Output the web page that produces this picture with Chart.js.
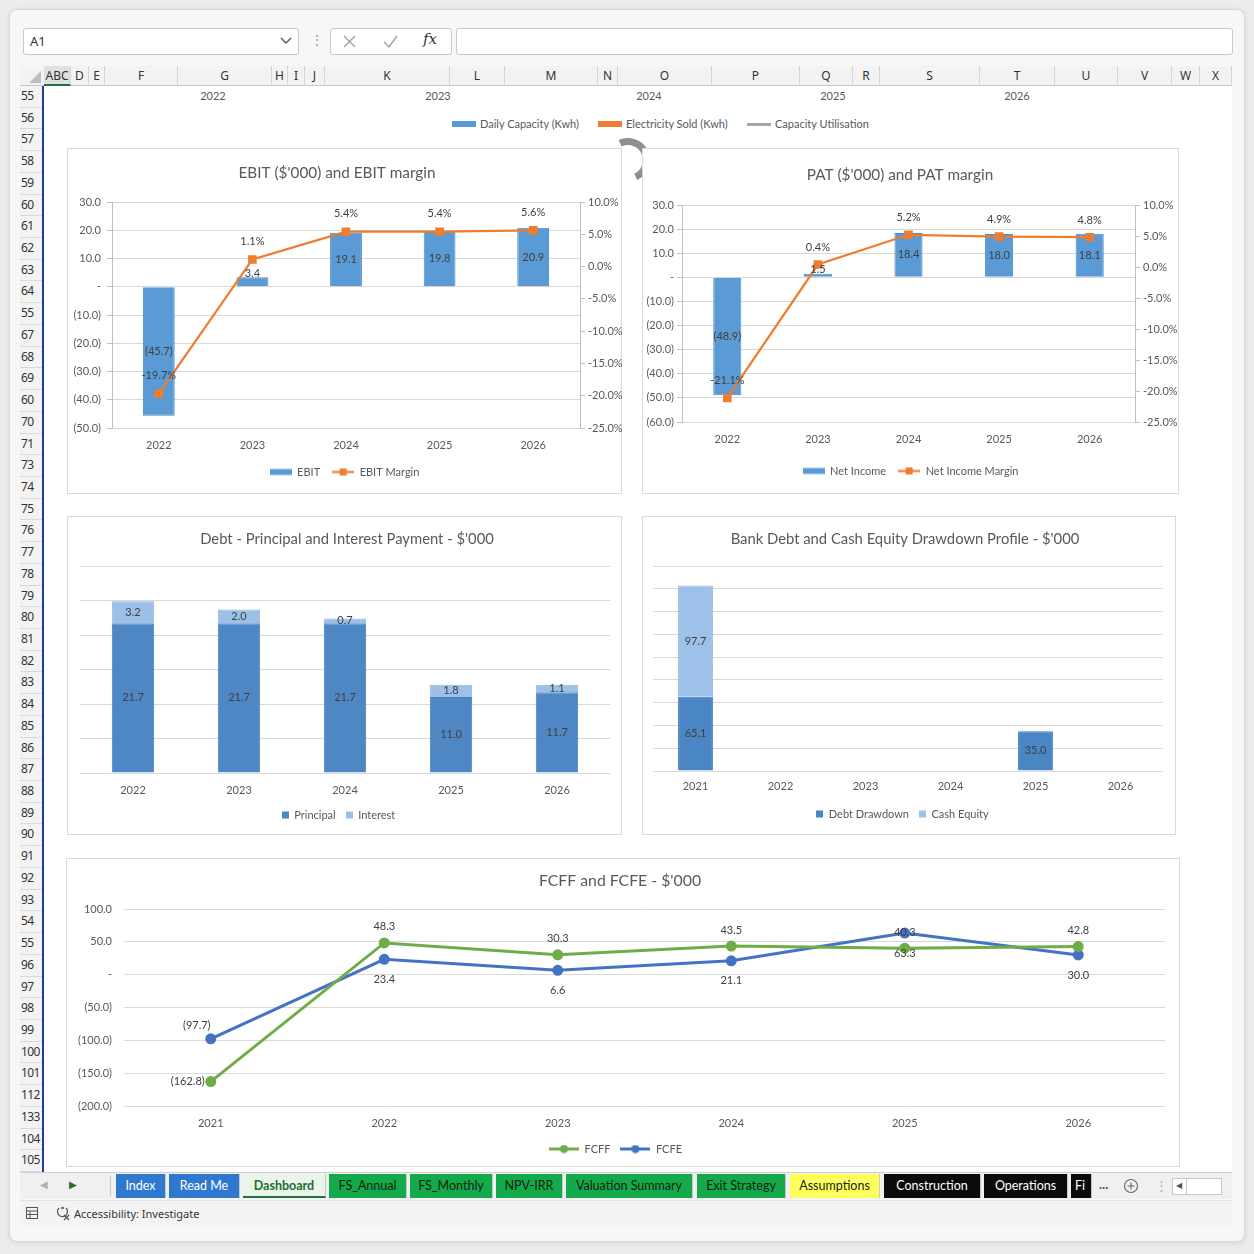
<!DOCTYPE html>
<html>
<head>
<meta charset="utf-8">
<title>Dashboard</title>
<script src="https://cdn.jsdelivr.net/npm/chart.js@4.4.1/dist/chart.umd.min.js"></script>
<style>
  html, body { margin:0; padding:0; }
  body { width:1254px; height:1254px; background:#ececec; position:relative; overflow:hidden;
         font-family: Lato, "Open Sans", "Liberation Sans", sans-serif; color:#333; }
  .a { position:absolute; box-sizing:border-box; }
  .box { background:#fff; border:1px solid #c9c9c9; border-radius:3px; }
  .ui { font-family: "Noto Sans", "Open Sans", sans-serif; }
  .colh { top:66px; height:20px; border-right:1px solid #d6d6d6; font-size:12px; line-height:19px; text-align:center; color:#333; }
  .rowh { left:20px; width:23px; border-bottom:1px solid #dadada; font-size:12px; letter-spacing:-0.6px; padding-left:1px; color:#333; white-space:nowrap; overflow:hidden; }
  .chartbox { background:#fff; border:1px solid #d9d9d9; }
  canvas.cv { position:absolute; }
  .tab { top:1174px; height:24px; font-size:12.5px; line-height:23px; text-align:center; white-space:nowrap; overflow:hidden; border-right:1px solid #c8c8c8; }
  .hdrtxt { top:89px; font-size:11px; color:#595959; transform:translateX(-50%); }
  .leg { top:117px; font-size:11px; color:#595959; line-height:14px; }
</style>
</head>
<body>
<div id="win" class="a" style="left:9px;top:9px;width:1236px;height:1233px;background:#f7f7f7;border:1px solid #d9d9d9;border-radius:8px;box-shadow:0 1px 5px rgba(0,0,0,0.10);"></div>

<!-- formula bar -->
<div class="a box ui" style="left:23px;top:28px;width:276px;height:27px;font-size:13px;line-height:25px;padding-left:6px;color:#333;">A1</div>
<svg class="a" style="left:280px;top:36px" width="12" height="10"><polyline points="1,2 6,7 11,2" fill="none" stroke="#555" stroke-width="1.4"/></svg>
<div class="a" style="left:310px;top:31px;color:#9a9a9a;font-size:14px;">⋮</div>
<div class="a box" style="left:330px;top:28px;width:122px;height:27px;"></div>
<svg class="a" style="left:342px;top:34px" width="15" height="15"><path d="M2 2 L13 13 M13 2 L2 13" stroke="#a0a0a0" stroke-width="1.4" fill="none"/></svg>
<svg class="a" style="left:382px;top:34px" width="17" height="15"><path d="M2 8 L7 13 L15 2" stroke="#a0a0a0" stroke-width="1.4" fill="none"/></svg>
<div class="a" style="left:423px;top:30px;font-family:'DejaVu Serif',serif;font-style:italic;font-size:15px;color:#333;">fx</div>
<div class="a box" style="left:456px;top:28px;width:777px;height:27px;"></div>

<!-- headers -->
<div class="a" style="left:20px;top:66px;width:1212px;height:20px;background:#f3f3f3;border-bottom:1px solid #c6c6c6;"></div>
<div class="a" style="left:29px;top:71px;width:0;height:0;border-left:12px solid transparent;border-bottom:12px solid #bdbdbd;"></div>
<div id="colHeaders"></div>
<div class="a" style="left:20px;top:86px;width:23px;height:1086px;background:#f3f3f3;border-right:1px solid #c6c6c6;"></div>
<div id="rowHeaders"></div>
<div class="a" style="left:43px;top:86px;width:1189px;height:1086px;background:#fff;"></div>
<div class="a" style="left:42px;top:86px;width:2px;height:1086px;background:#1f3f8f;"></div>

<!-- top partial chart texts -->
<div id="topRow"></div>

<!-- gray shape peeking between charts -->
<div class="a" style="left:606px;top:138px;width:44px;height:44px;border:7px solid transparent;border-top-color:#8f8f8f;border-right-color:#8f8f8f;border-radius:50%;transform:rotate(20deg);"></div>

<!-- chart boxes -->
<div class="a chartbox" style="left:67px;top:148px;width:555px;height:346px;"></div>
<div class="a chartbox" style="left:642px;top:148px;width:537px;height:346px;"></div>
<div class="a chartbox" style="left:67px;top:516px;width:555px;height:319px;"></div>
<div class="a chartbox" style="left:642px;top:516px;width:534px;height:319px;"></div>
<div class="a chartbox" style="left:66px;top:858px;width:1114px;height:309px;"></div>

<canvas id="cEbit" class="cv" width="555" height="346" style="left:67px;top:148px;"></canvas>
<canvas id="cPat" class="cv" width="537" height="346" style="left:642px;top:148px;"></canvas>
<canvas id="cDebt" class="cv" width="555" height="319" style="left:67px;top:516px;"></canvas>
<canvas id="cDraw" class="cv" width="534" height="319" style="left:642px;top:516px;"></canvas>
<canvas id="cFcf" class="cv" width="1114" height="309" style="left:66px;top:858px;"></canvas>

<!-- tab bar & status bar -->
<div class="a" style="left:20px;top:1172px;width:1212px;height:27px;background:#f0f0f0;border-top:1px solid #d0d0d0;"></div>
<div class="a" style="left:40px;top:1178px;color:#b0b0b0;font-size:10px;">&#9664;</div>
<div class="a" style="left:69px;top:1178px;color:#2e6b2e;font-size:10px;">&#9654;</div>
<div class="a" style="left:110px;top:1176px;width:1px;height:20px;background:#c8c8c8;"></div>
<div id="tabs"></div>
<div class="a" style="left:1099px;top:1176px;color:#217346;font-size:13px;font-weight:bold;">...</div>
<svg class="a" style="left:1123px;top:1178px" width="16" height="16"><circle cx="8" cy="8" r="6.5" fill="none" stroke="#666" stroke-width="1.1"/><path d="M8 4.5 V11.5 M4.5 8 H11.5" stroke="#666" stroke-width="1.1"/></svg>
<div class="a" style="left:1155px;top:1177px;color:#aaa;font-size:13px;">⋮</div>
<div class="a" style="left:1172px;top:1178px;width:50px;height:17px;background:#fff;border:1px solid #c8c8c8;"></div>
<div class="a" style="left:1176px;top:1180px;color:#555;font-size:8px;">&#9664;</div>
<div class="a" style="left:1186px;top:1179px;width:1px;height:15px;background:#c8c8c8;"></div>
<div class="a" style="left:20px;top:1200px;width:1212px;height:26px;background:#f3f3f3;border-top:1px solid #e2e2e2;"></div>
<svg class="a" style="left:25px;top:1206px" width="14" height="14"><rect x="1.5" y="1.5" width="11" height="11" fill="none" stroke="#555"/><path d="M1.5 5 H12.5 M1.5 8.5 H12.5 M5 5 V12.5" stroke="#555"/></svg>
<svg class="a" style="left:55px;top:1205px" width="16" height="16"><path d="M4 3 A5 5 0 1 0 11 3" fill="none" stroke="#555" stroke-width="1.2"/><circle cx="7.5" cy="3" r="1.3" fill="#555"/><path d="M9 10 L14 15 M14 10 L9 15" stroke="#555" stroke-width="1.2"/></svg>
<div class="a ui" style="left:74px;top:1206px;font-size:11px;color:#333;">Accessibility: Investigate</div>

<script>
// ---------------- DATA ----------------
const headerYears = ['2022', '2023', '2024', '2025', '2026'];
const headerLegend = ['Daily Capacity (Kwh)', 'Electricity Sold (Kwh)', 'Capacity Utilisation'];

const ebitYears = ['2022', '2023', '2024', '2025', '2026'];
const ebitValues = [-45.7, 3.4, 19.1, 19.8, 20.9];
const ebitMargin = [-19.7, 1.1, 5.4, 5.4, 5.6];

const patYears = ['2022', '2023', '2024', '2025', '2026'];
const netIncome = [-48.9, 1.5, 18.4, 18.0, 18.1];
const netIncomeMargin = [-21.1, 0.4, 5.2, 4.9, 4.8];

const debtYears = ['2022', '2023', '2024', '2025', '2026'];
const principal = [21.7, 21.7, 21.7, 11.0, 11.7];
const interest = [3.2, 2.0, 0.7, 1.8, 1.1];

const drawYears = ['2021', '2022', '2023', '2024', '2025', '2026'];
const debtDrawdown = [65.1, 0, 0, 0, 35.0, 0];
const cashEquity = [97.7, 0, 0, 0, 0, 0];

const fcfYears = ['2021', '2022', '2023', '2024', '2025', '2026'];
const fcff = [-162.8, 48.3, 30.3, 43.5, 40.3, 42.8];
const fcfe = [-97.7, 23.4, 6.6, 21.1, 63.3, 30.0];

const rowLabels = ['55','56','57','58','59','60','61','62','63','64','55','67','68','69','60','70','71','73','74','75',
  '76','77','78','79','80','81','82','83','84','85','86','87','88','89','90','91','92','93','54','55',
  '96','97','98','99','100','101','112','133','104','105'];
const colLabels = ['ABC','D','E','F','G','H','I','J','K','L','M','N','O','P','Q','R','S','T','U','V','W','X'];
const tabNames = ['Index','Read Me','Dashboard','FS_Annual','FS_Monthly','NPV-IRR','Valuation Summary','Exit Strategy','Assumptions','Construction','Operations','Fi'];

// ---------------- SPREADSHEET CHROME ----------------
(function chrome() {
  const colEdges = [44,71,89,105,178,272,288,305,325,450,505,598,618,712,800,853,880,980,1055,1118,1172,1200,1232];
  let h = '';
  colLabels.forEach((t, i) => {
    const l = colEdges[i], w = colEdges[i + 1] - l;
    const sel = i === 0;
    h += `<div class="a colh ui" style="left:${l}px;width:${w}px;${sel ? 'background:#e0e0e0;border-bottom:2px solid #217346;' : ''}">${t}</div>`;
  });
  document.getElementById('colHeaders').innerHTML = h;

  h = '';
  const rh = 1086 / rowLabels.length;
  rowLabels.forEach((t, i) => {
    h += `<div class="a rowh ui" style="top:${(86 + i * rh).toFixed(2)}px;height:${rh.toFixed(2)}px;line-height:${(rh - 1).toFixed(1)}px;">${t}</div>`;
  });
  document.getElementById('rowHeaders').innerHTML = h;

  const yearX = [213, 438, 649, 833, 1017];
  h = '';
  headerYears.forEach((y, i) => { h += `<div class="a hdrtxt" style="left:${yearX[i]}px;">${y}</div>`; });
  const legX = [452, 598, 747];
  const legC = ['#5b9bd5', '#ed7d31', '#a5a5a5'];
  headerLegend.forEach((t, i) => {
    const sw = i === 2 ? `height:3px;top:123px;` : `height:6px;top:121px;`;
    h += `<div class="a" style="left:${legX[i]}px;width:24px;${sw}background:${legC[i]};"></div>`;
    h += `<div class="a leg" style="left:${legX[i] + 28}px;">${t}</div>`;
  });
  document.getElementById('topRow').innerHTML = h;

  const tabEdges = [[116,166],[169,240],[243,326],[329,407],[410,493],[496,563],[566,693],[697,786],[790,880],[884,981],[984,1068],[1071,1092]];
  const tabStyle = (i) => {
    if (i < 2) return 'background:#2f78cf;color:#fff;';
    if (i === 2) return 'background:#eaf4ea;color:#1b6e2e;font-weight:bold;border-bottom:2px solid #217346;';
    if (i < 8) return 'background:#14a94b;color:#0b2410;';
    if (i === 8) return 'background:#ffff5c;color:#222;';
    return 'background:#0b0b0b;color:#fff;';
  };
  h = '';
  tabNames.forEach((t, i) => {
    const [l, r] = tabEdges[i];
    h += `<div class="a tab" style="left:${l}px;width:${r - l}px;${tabStyle(i)}${i === 11 ? 'text-align:left;padding-left:4px;' : ''}">${t}</div>`;
  });
  document.getElementById('tabs').innerHTML = h;
})();

// ---------------- CHARTS ----------------
const FONT = "Lato, 'Open Sans', 'Liberation Sans', sans-serif";
Chart.defaults.font.family = FONT;
Chart.defaults.font.size = 11;
Chart.defaults.color = '#595959';
Chart.defaults.animation = false;

const GRID = '#d9d9d9', AXIS = '#bfbfbf', LABEL = '#404040';
const BLUE = '#5b9bd5', ORANGE = '#ed7d31';

function acct(v) { if (Math.abs(v) < 1e-9) return '-'; return v < 0 ? '(' + Math.abs(v).toFixed(1) + ')' : v.toFixed(1); }
function pct(v) { return v.toFixed(1) + '%'; }

function icon(kind, color, w, h) {
  const c = document.createElement('canvas');
  c.width = w; c.height = h;
  const g = c.getContext('2d');
  const cy = h / 2;
  g.fillStyle = color; g.strokeStyle = color;
  if (kind === 'bar') g.fillRect(0, cy - 3, w, 6);
  else if (kind === 'square') g.fillRect((w - 7) / 2, cy - 3.5, 7, 7);
  else {
    g.lineWidth = kind === 'lineDot' ? 3 : 2.2;
    g.beginPath(); g.moveTo(0, cy); g.lineTo(w, cy); g.stroke();
    if (kind === 'lineRect') g.fillRect(w / 2 - 3.5, cy - 3.5, 7, 7);
    if (kind === 'lineDot') { g.beginPath(); g.arc(w / 2, cy, 4, 0, Math.PI * 2); g.fill(); }
  }
  return c;
}

// data labels drawn from each element's position
const valueLabels = {
  id: 'valueLabels',
  afterDatasetsDraw(chart) {
    const ctx = chart.ctx;
    chart.data.datasets.forEach((ds, di) => {
      const vl = ds.vl; if (!vl) return;
      const meta = chart.getDatasetMeta(di);
      meta.data.forEach((el, i) => {
        const v = ds.data[i];
        if (vl.skipZero && v === 0) return;
        const p = vl.place(i);
        let x = el.x, y = el.y;
        if (p.mode === 'center') {
          const top = Math.min(el.y, el.base), bot = Math.max(el.y, el.base);
          y = (top + bot) / 2;
          if (p.lift && bot - top < 12) y = top - 4;
        }
        x += p.dx || 0; y += p.dy || 0;
        ctx.save();
        ctx.font = '11px ' + FONT;
        ctx.fillStyle = LABEL;
        ctx.textAlign = p.align || 'center';
        ctx.textBaseline = 'middle';
        ctx.fillText(vl.fmt(v), x, y);
        ctx.restore();
      });
    });
  }
};

// chart title placed like the spreadsheet's chart title
const chartTitle = {
  id: 'chartTitle',
  afterDraw(chart, args, opts) {
    if (!opts || !opts.text) return;
    const ctx = chart.ctx;
    ctx.save();
    ctx.font = `400 ${opts.size}px ${FONT}`;
    ctx.fillStyle = '#595959';
    ctx.textAlign = 'center';
    ctx.textBaseline = 'middle';
    ctx.fillText(opts.text, opts.x, opts.y);
    ctx.restore();
  }
};

function build(id, s) {
  const legTop = s.legendY - s.legendPad - 5.5;
  const xH = legTop - s.plot.b;
  const padBottom = s.H - s.legendY - 15.5;
  const scales = {
    x: {
      type: 'category', position: 'bottom', offset: true, stacked: !!s.stacked,
      grid: { display: false, drawTicks: false }, border: { display: false },
      ticks: { padding: s.xOff - 6.6, color: '#595959', font: { size: 11 }, maxRotation: 0, autoSkip: false },
      afterFit: sc => { sc.height = xH; }
    },
    y: Object.assign({
      position: 'left', stacked: !!s.stacked,
      afterFit: sc => { sc.width = s.plot.l; }
    }, s.y)
  };
  if (s.y2) {
    scales.y2 = Object.assign({ position: 'right', afterFit: sc => { sc.width = s.W - s.plot.r; } }, s.y2);
  }
  const padRight = s.y2 ? 0 : s.W - s.plot.r;
  return new Chart(document.getElementById(id), {
    type: s.type || 'bar',
    data: { labels: s.labels, datasets: s.datasets },
    options: {
      responsive: false, animation: false,
      layout: { padding: { top: s.plot.t, left: 0, right: padRight, bottom: padBottom } },
      plugins: {
        title: { display: false },
        chartTitle: { text: s.title, x: s.titleX, y: s.titleY, size: s.titleSize },
        legend: {
          position: 'bottom',
          labels: {
            usePointStyle: true, pointStyleWidth: s.legendIconW, padding: s.legendPad,
            font: { size: 11 }, color: '#595959',
            generateLabels: () => s.legend.map((it, k) => ({
              text: it.text, pointStyle: it.icon, fillStyle: 'rgba(0,0,0,0)', strokeStyle: 'rgba(0,0,0,0)',
              lineWidth: 0, hidden: false, datasetIndex: k, fontColor: '#595959'
            }))
          }
        },
        tooltip: { enabled: false }
      },
      scales
    },
    plugins: [valueLabels, chartTitle]
  });
}

const axisWithTicks = (min, max, step, fmt, pad) => ({
  min, max,
  grid: { color: GRID, tickColor: AXIS, drawTicks: true, tickLength: 5 },
  border: { display: true, color: AXIS },
  ticks: { stepSize: step, padding: pad, color: '#595959', font: { size: 11 }, callback: v => fmt(v) }
});
const rightAxis = (min, max, step, fmt, pad) => ({
  min, max,
  grid: { drawOnChartArea: false, tickColor: AXIS, drawTicks: true, tickLength: 5 },
  border: { display: true, color: AXIS },
  ticks: { stepSize: step, padding: pad, color: '#595959', font: { size: 11 }, callback: v => fmt(v) }
});
const hiddenAxis = (min, max, step) => ({
  min, max,
  grid: { color: GRID, drawTicks: false },
  border: { display: false },
  ticks: { display: false, stepSize: step }
});

// EBIT
build('cEbit', {
  W: 555, H: 346, plot: { l: 45, t: 54, r: 513, b: 280 },
  title: "EBIT ($'000) and EBIT margin", titleX: 270, titleY: 25, titleSize: 15.3,
  xOff: 17, legendY: 324, legendPad: 12, legendIconW: 22,
  labels: ebitYears,
  y: axisWithTicks(-50, 30, 10, acct, 6),
  y2: rightAxis(-25, 10, 5, pct, 3),
  legend: [{ text: 'EBIT', icon: icon('bar', BLUE, 22, 9) }, { text: 'EBIT Margin', icon: icon('lineRect', ORANGE, 22, 9) }],
  datasets: [
    { type: 'line', label: 'EBIT Margin', data: ebitMargin, yAxisID: 'y2', borderColor: ORANGE, backgroundColor: ORANGE,
      borderWidth: 2.25, pointStyle: 'rect', pointRadius: 4.5, pointBackgroundColor: ORANGE, pointBorderColor: ORANGE,
      tension: 0, order: 0, vl: { fmt: pct, place: () => ({ dy: -18 }) } },
    { type: 'bar', label: 'EBIT', data: ebitValues, yAxisID: 'y', backgroundColor: BLUE, borderColor: '#4a8acb', borderWidth: 1,
      barPercentage: 0.34, categoryPercentage: 1, order: 1, vl: { fmt: acct, place: () => ({ mode: 'center', lift: true }) } }
  ]
});

// PAT
build('cPat', {
  W: 537, H: 346, plot: { l: 40, t: 57, r: 493, b: 274 },
  title: "PAT ($'000) and PAT margin", titleX: 258, titleY: 27, titleSize: 15.3,
  xOff: 17, legendY: 323, legendPad: 12, legendIconW: 22,
  labels: patYears,
  y: axisWithTicks(-60, 30, 10, acct, 3),
  y2: rightAxis(-25, 10, 5, pct, 3),
  legend: [{ text: 'Net Income', icon: icon('bar', BLUE, 22, 9) }, { text: 'Net Income Margin', icon: icon('lineRect', ORANGE, 22, 9) }],
  datasets: [
    { type: 'line', label: 'Net Income Margin', data: netIncomeMargin, yAxisID: 'y2', borderColor: ORANGE, backgroundColor: ORANGE,
      borderWidth: 2.25, pointStyle: 'rect', pointRadius: 4.5, pointBackgroundColor: ORANGE, pointBorderColor: ORANGE,
      tension: 0, order: 0, vl: { fmt: pct, place: () => ({ dy: -17 }) } },
    { type: 'bar', label: 'Net Income', data: netIncome, yAxisID: 'y', backgroundColor: BLUE, borderColor: '#4a8acb', borderWidth: 1,
      barPercentage: 0.31, categoryPercentage: 1, order: 1, vl: { fmt: acct, place: () => ({ mode: 'center', lift: true }) } }
  ]
});

// Debt principal & interest
const PRIN = '#4f87c4', INTR = '#9cc0e8';
build('cDebt', {
  W: 555, H: 319, plot: { l: 13, t: 50, r: 543, b: 257 }, stacked: true,
  title: "Debt - Principal and Interest Payment - $'000", titleX: 280, titleY: 23, titleSize: 14.8,
  xOff: 17, legendY: 299, legendPad: 10, legendIconW: 7,
  labels: debtYears,
  y: hiddenAxis(0, 30, 5),
  legend: [{ text: 'Principal', icon: icon('square', PRIN, 7, 9) }, { text: 'Interest', icon: icon('square', INTR, 7, 9) }],
  datasets: [
    { label: 'Principal', data: principal, backgroundColor: PRIN, borderColor: '#4680bd', borderWidth: 1,
      barPercentage: 0.4, categoryPercentage: 1, vl: { fmt: acct, place: () => ({ mode: 'center' }) } },
    { label: 'Interest', data: interest, backgroundColor: INTR, borderColor: '#8fb6e2', borderWidth: 1,
      barPercentage: 0.4, categoryPercentage: 1, vl: { fmt: acct, place: () => ({ mode: 'center' }) } }
  ]
});

// Bank debt and cash equity drawdown
const DD = '#4a85c4', CE = '#9dc1e8';
build('cDraw', {
  W: 534, H: 319, plot: { l: 11, t: 50, r: 521, b: 255 }, stacked: true,
  title: "Bank Debt and Cash Equity Drawdown Profile - $'000", titleX: 263, titleY: 23, titleSize: 14.8,
  xOff: 15, legendY: 298, legendPad: 10, legendIconW: 7,
  labels: drawYears,
  y: hiddenAxis(0, 180, 20),
  legend: [{ text: 'Debt Drawdown', icon: icon('square', DD, 7, 9) }, { text: 'Cash Equity', icon: icon('square', CE, 7, 9) }],
  datasets: [
    { label: 'Debt Drawdown', data: debtDrawdown, backgroundColor: DD, borderColor: '#427dbc', borderWidth: 1,
      barPercentage: 0.41, categoryPercentage: 1, vl: { fmt: acct, skipZero: true, place: () => ({ mode: 'center' }) } },
    { label: 'Cash Equity', data: cashEquity, backgroundColor: CE, borderColor: '#93b9e3', borderWidth: 1,
      barPercentage: 0.41, categoryPercentage: 1, vl: { fmt: acct, skipZero: true, place: () => ({ mode: 'center' }) } }
  ]
});

// FCFF and FCFE
const GREEN = '#70ad47', LBLUE = '#4472c4';
build('cFcf', {
  type: 'line',
  W: 1114, H: 309, plot: { l: 58, t: 51, r: 1099, b: 248 },
  title: "FCFF and FCFE - $'000", titleX: 554, titleY: 23, titleSize: 15.8,
  xOff: 17, legendY: 291, legendPad: 10, legendIconW: 30,
  labels: fcfYears,
  y: { min: -200, max: 100, grid: { color: GRID, drawTicks: false }, border: { display: false },
       ticks: { stepSize: 50, padding: 12, color: '#595959', font: { size: 11 }, callback: v => acct(v) } },
  legend: [{ text: 'FCFF', icon: icon('lineDot', GREEN, 30, 9) }, { text: 'FCFE', icon: icon('lineDot', LBLUE, 30, 9) }],
  datasets: [
    { label: 'FCFF', data: fcff, borderColor: GREEN, backgroundColor: GREEN, borderWidth: 3, pointRadius: 4,
      pointBackgroundColor: GREEN, pointBorderColor: GREEN, tension: 0,
      vl: { fmt: acct, place: i => i === 0 ? { dx: -6, align: 'right' } : { dy: -16 } } },
    { label: 'FCFE', data: fcfe, borderColor: LBLUE, backgroundColor: LBLUE, borderWidth: 3, pointRadius: 4,
      pointBackgroundColor: LBLUE, pointBorderColor: LBLUE, tension: 0,
      vl: { fmt: acct, place: i => i === 0 ? { dx: -14, dy: -13 } : { dy: 20 } } }
  ]
});
</script>
</body>
</html>
